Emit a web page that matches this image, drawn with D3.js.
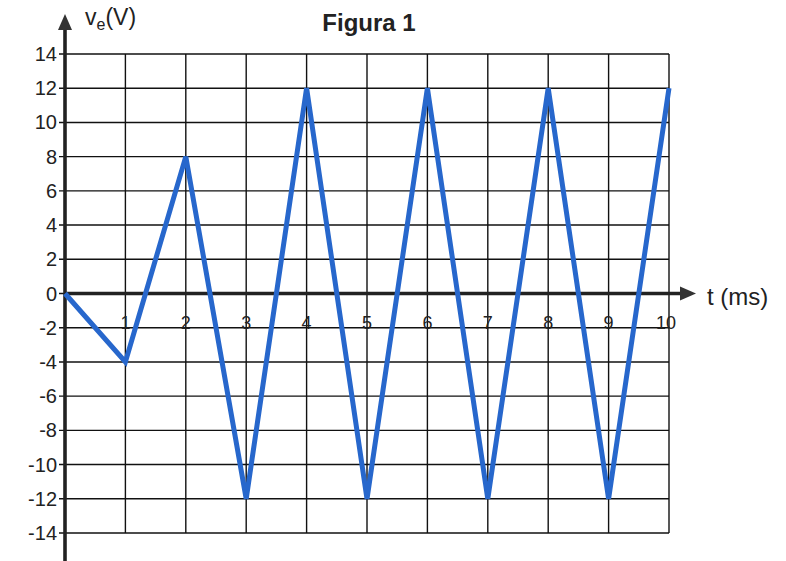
<!DOCTYPE html>
<html>
<head>
<meta charset="utf-8">
<script src="https://cdn.jsdelivr.net/npm/d3@7"></script>
<style>
  body { margin: 0; background: #fff; }
  text { font-family: "Liberation Sans", Arial, sans-serif; fill: #222; }
</style>
</head>
<body>
<div id="chart-area"></div>
<script>
// triangular waveform v_e(t)
const times = [0, 1, 2, 3, 4, 5, 6, 7, 8, 9, 10]
const volts = [0, -4, 8, -12, 12, -12, 12, -12, 12, -12, 12]
const xTicks = [1, 2, 3, 4, 5, 6, 7, 8, 9, 10]
const yTicks = [14, 12, 10, 8, 6, 4, 2, 0, -2, -4, -6, -8, -10, -12, -14]

const W = 786, H = 561
const X0 = 65, X1 = 669
const Y0 = 54, Y1 = 533

const svg = d3.select("#chart-area").append("svg")
  .attr("width", W)
  .attr("height", H)

const x = d3.scaleLinear().domain([0, 10]).range([X0, X1])
const y = d3.scaleLinear().domain([14, -14]).range([Y0, Y1])

// grid
const grid = svg.append("g").attr("stroke", "#111").attr("stroke-width", 1.4)
grid.selectAll(".vg")
  .data(xTicks)
  .enter().append("line")
  .attr("x1", d => x(d)).attr("x2", d => x(d))
  .attr("y1", y(14)).attr("y2", y(-14))
grid.selectAll(".hg")
  .data(yTicks)
  .enter().append("line")
  .attr("x1", x(0) - 6).attr("x2", x(10))
  .attr("y1", d => y(d)).attr("y2", d => y(d))

// y axis labels
svg.append("g").selectAll("text")
  .data(yTicks)
  .enter().append("text")
  .attr("x", x(0) - 8)
  .attr("y", d => y(d) + 7)
  .attr("text-anchor", "end")
  .attr("font-size", 20)
  .text(d => d)

// x axis labels
svg.append("g").selectAll("text")
  .data(xTicks)
  .enter().append("text")
  .attr("x", d => x(d) - (d === 10 ? 3 : 0))
  .attr("y", y(0) + 35)
  .attr("text-anchor", "middle")
  .attr("font-size", 18)
  .text(d => d)

// axes with arrows
svg.append("line")
  .attr("x1", x(0)).attr("x2", x(0))
  .attr("y1", H).attr("y2", 28)
  .attr("stroke", "#222").attr("stroke-width", 3.6)
svg.append("path")
  .attr("d", `M${x(0)},14 L${x(0) - 7},30 L${x(0) + 7},30 Z`)
  .attr("fill", "#333")

svg.append("line")
  .attr("x1", x(0)).attr("x2", 682)
  .attr("y1", y(0)).attr("y2", y(0))
  .attr("stroke", "#222").attr("stroke-width", 3.6)
svg.append("path")
  .attr("d", `M696,${y(0)} L680,${y(0) - 7} L680,${y(0) + 7} Z`)
  .attr("fill", "#333")

// signal
svg.append("path")
  .datum(times.map((t, i) => [t, volts[i]]))
  .attr("fill", "none")
  .attr("stroke", "#2767cc")
  .attr("stroke-width", 5)
  .attr("stroke-linejoin", "miter")
  .attr("stroke-miterlimit", 3)
  .attr("d", d3.line().x(d => x(d[0])).y(d => y(d[1])))

// labels
const vl = svg.append("text").attr("x", 85).attr("y", 25).attr("font-size", 23)
vl.append("tspan").text("v")
vl.append("tspan").attr("font-size", 16).attr("dy", 5).text("e")
vl.append("tspan").attr("dy", -5).text("(V)")

svg.append("text")
  .attr("x", 369).attr("y", 31)
  .attr("text-anchor", "middle")
  .attr("font-size", 24)
  .attr("font-weight", "bold")
  .text("Figura 1")

svg.append("text")
  .attr("x", 707).attr("y", 305)
  .attr("font-size", 24)
  .text("t (ms)")
</script>
</body>
</html>
